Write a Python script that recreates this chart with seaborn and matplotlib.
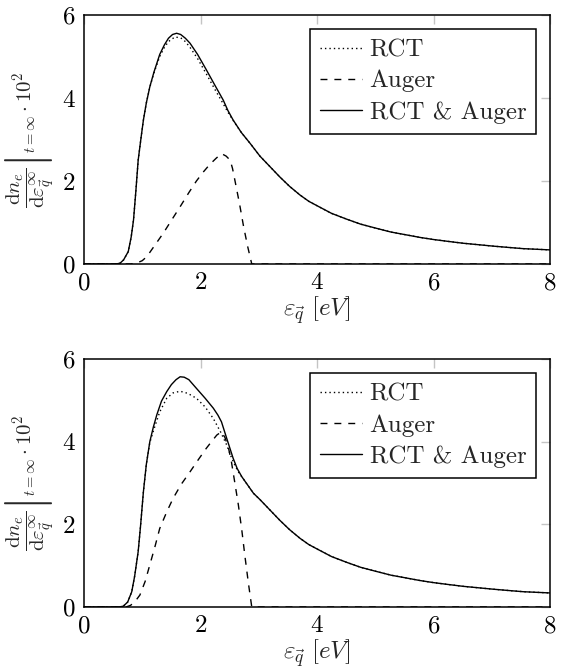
import numpy as np
import pandas as pd
import matplotlib
matplotlib.use("Agg")
import matplotlib.pyplot as plt
import seaborn as sns

# ---------------- data ----------------
# shared tail (x >= 3) of the RCT & Auger / RCT curves (identical in both panels)
tail_x = [3.02, 3.19, 3.36, 3.53, 3.71, 3.86, 4.02, 4.25, 4.51, 4.75, 5.02, 5.27,
          5.54, 5.77, 6.0, 6.25, 6.51, 6.77, 7.03, 7.28, 7.54, 7.77, 8.0]
tail_y = [2.60, 2.35, 2.10, 1.87, 1.66, 1.51, 1.39, 1.22, 1.08, 0.96, 0.86, 0.77,
          0.70, 0.64, 0.59, 0.545, 0.50, 0.465, 0.43, 0.40, 0.37, 0.355, 0.34]

# ---- top panel ----
top_both_x = [0.0, 0.55, 0.62, 0.68, 0.76, 0.81, 0.85, 0.89, 0.93, 0.98, 1.02, 1.07,
              1.13, 1.20, 1.30, 1.38, 1.45, 1.52, 1.59, 1.66, 1.74, 1.82, 1.95, 2.10,
              2.25, 2.39, 2.47, 2.56, 2.70, 2.85]
top_both_y = [0.0, 0.0, 0.02, 0.10, 0.30, 0.65, 1.06, 1.75, 2.50, 3.05, 3.47, 3.88,
              4.27, 4.62, 5.05, 5.28, 5.44, 5.53, 5.56, 5.53, 5.44, 5.32, 5.05, 4.68,
              4.30, 3.95, 3.70, 3.47, 3.17, 2.91]
top_rct_x = [0.0, 0.55, 0.62, 0.68, 0.76, 0.81, 0.85, 0.89, 0.93, 0.98, 1.02, 1.07,
             1.13, 1.20, 1.30, 1.38, 1.45, 1.56, 1.66, 1.74, 1.82, 1.95, 2.10, 2.25,
             2.39, 2.47, 2.56, 2.70, 2.85]
top_rct_y = [0.0, 0.0, 0.02, 0.10, 0.30, 0.65, 1.06, 1.75, 2.50, 3.05, 3.47, 3.88,
             4.26, 4.60, 5.00, 5.22, 5.36, 5.47, 5.45, 5.36, 5.22, 4.95, 4.58, 4.20,
             3.86, 3.66, 3.46, 3.17, 2.91]
top_aug_x = [0.0, 0.80, 0.90, 1.00, 1.08, 1.20, 1.36, 1.50, 1.65, 1.80, 1.93, 2.05,
             2.16, 2.27, 2.36, 2.44, 2.51, 2.55, 2.59, 2.67, 2.74, 2.81, 2.88, 8.0]
top_aug_y = [0.0, 0.0, 0.02, 0.08, 0.18, 0.42, 0.74, 1.05, 1.38, 1.72, 2.00, 2.22,
             2.40, 2.55, 2.66, 2.60, 2.50, 2.30, 2.02, 1.45, 0.90, 0.42, 0.0, 0.0]

# ---- bottom panel ----
bot_both_x = [0.0, 0.60, 0.675, 0.75, 0.82, 0.87, 0.93, 0.97, 1.02, 1.07, 1.13, 1.19,
              1.25, 1.33, 1.42, 1.50, 1.58, 1.65, 1.72, 1.80, 1.93, 2.08, 2.22, 2.30,
              2.36, 2.45, 2.56, 2.63, 2.71, 2.81, 2.91]
bot_both_y = [0.0, 0.0, 0.02, 0.12, 0.37, 0.75, 1.34, 1.95, 2.79, 3.45, 4.00, 4.35,
              4.65, 4.98, 5.21, 5.38, 5.50, 5.57, 5.56, 5.50, 5.29, 5.05, 4.81, 4.64,
              4.48, 4.08, 3.60, 3.35, 3.15, 2.95, 2.75]
bot_rct_x = [0.0, 0.60, 0.675, 0.75, 0.82, 0.87, 0.93, 0.97, 1.02, 1.07, 1.13, 1.20,
             1.30, 1.42, 1.53, 1.65, 1.78, 1.93, 2.08, 2.22, 2.35, 2.45, 2.53, 2.60,
             2.67, 2.71, 2.81, 2.91]
bot_rct_y = [0.0, 0.0, 0.02, 0.12, 0.37, 0.75, 1.34, 1.95, 2.79, 3.45, 3.98, 4.30,
             4.72, 5.05, 5.18, 5.22, 5.17, 5.05, 4.84, 4.56, 4.22, 3.92, 3.62, 3.40,
             3.22, 3.15, 2.95, 2.75]
bot_aug_x = [0.0, 0.72, 0.80, 0.88, 0.96, 1.05, 1.13, 1.22, 1.30, 1.42, 1.53, 1.67,
             1.82, 1.96, 2.10, 2.20, 2.28, 2.36, 2.42, 2.48, 2.53, 2.59, 2.65, 2.71,
             2.76, 2.82, 2.88, 8.0]
bot_aug_y = [0.0, 0.0, 0.04, 0.14, 0.29, 0.62, 1.02, 1.47, 1.90, 2.30, 2.63, 2.97,
             3.27, 3.56, 3.84, 4.02, 4.16, 4.24, 4.10, 3.85, 3.52, 3.00, 2.47, 1.85,
             1.26, 0.60, 0.0, 0.0]

labels = ["RCT", "Auger", "RCT & Auger"]
x_ticks = [0, 2, 4, 6, 8]
y_ticks = [0, 2, 4, 6]

# ---------------- styling ----------------
sns.set_style("white")
plt.rcParams.update({
    "font.family": "serif",
    "font.serif": ["cmr10"],
    "mathtext.fontset": "cm",
    "axes.formatter.use_mathtext": True,
    "axes.unicode_minus": False,
    "font.size": 18,
})

fig = plt.figure(figsize=(5.65, 6.68), dpi=100)
W, H = 565.0, 668.0
ax_top = fig.add_axes([84 / W, (H - 264) / H, 466 / W, 249 / H])
ax_bot = fig.add_axes([84 / W, (H - 607) / H, 466 / W, 248 / H])

panels = [
    (ax_top, top_rct_x + tail_x, top_rct_y + tail_y, top_aug_x, top_aug_y,
     top_both_x + tail_x, top_both_y + tail_y),
    (ax_bot, bot_rct_x + tail_x, bot_rct_y + tail_y, bot_aug_x, bot_aug_y,
     bot_both_x + tail_x, bot_both_y + tail_y),
]

ylabel = (r"$\left.\dfrac{\mathrm{d}n_e}{\mathrm{d}\varepsilon_{\vec{q}}^{\infty}}"
          r"\right|_{t=\infty}\cdot 10^2$")
xlabel = r"$\varepsilon_{\vec{q}}\ [eV]$"

for ax, rx, ry, ax_, ay, bx, by in panels:
    sns.lineplot(x=rx, y=ry, ax=ax, color="black", lw=1.0,
                 linestyle=(0, (1, 2.2)), label=labels[0])
    sns.lineplot(x=ax_, y=ay, ax=ax, color="black", lw=1.0,
                 linestyle=(0, (5, 5)), label=labels[1])
    sns.lineplot(x=bx, y=by, ax=ax, color="black", lw=1.0,
                 linestyle="-", label=labels[2])
    ax.set_xlim(0, 8)
    ax.set_ylim(0, 6)
    ax.set_xticks(x_ticks)
    ax.set_yticks(y_ticks)
    ax.tick_params(axis="both", which="major", direction="in", length=6.5,
                   width=1.0, color="#c4c4c4", top=True, right=True,
                   labelsize=18, pad=6, labelcolor="black")
    for s in ax.spines.values():
        s.set_color("black")
        s.set_linewidth(1.1)
        s.set_zorder(5)
    ax.set_xlabel(xlabel, fontsize=18, labelpad=0)
    ax.set_ylabel(ylabel, fontsize=15, labelpad=4)
    leg = ax.legend(loc="upper right", frameon=True, fancybox=False,
                    edgecolor="black", framealpha=1, fontsize=18,
                    borderaxespad=0.55, handlelength=1.7, handletextpad=0.3,
                    labelspacing=0.35, borderpad=0.4)
    leg.get_frame().set_linewidth(1.1)

fig.savefig("out.png", dpi=100)
